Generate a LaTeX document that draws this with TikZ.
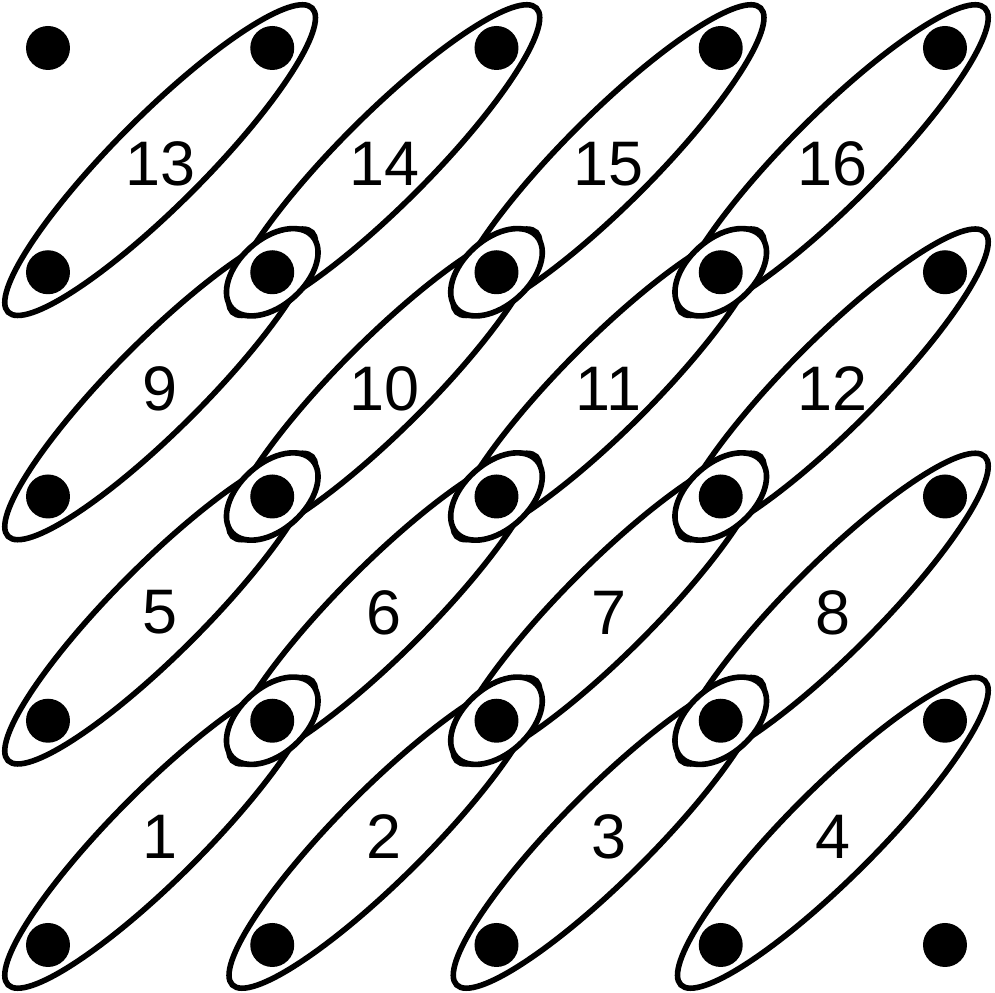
\documentclass[tikz,border=0pt]{standalone}
\usepackage{fontspec}
\setmainfont{Liberation Sans}
\usetikzlibrary{calc}
\tikzset{
  pt/.style={circle, fill=black, inner sep=0pt, minimum size=0.44cm},
  pairloop/.style={line width=0.056cm},
  eyeloop/.style={pairloop, fill=white},
  num/.style={font=\fontsize{17.9}{20}\selectfont, inner sep=0pt},
}

\begin{document}
\begin{tikzpicture}
  \useasboundingbox (0,0) rectangle (9.95,9.93);
  % grid positions
  \foreach \c in {0,...,4}
    \foreach \r in {0,...,4}
      \coordinate (g-\c-\r) at ({0.48+2.2425*\c},{0.48+2.2425*\r});
  % long loops with their numbers
  \foreach \c in {0,...,3}
    \foreach \r in {0,...,3} {
      \pgfmathtruncatemacro{\k}{4*\r+\c+1}
      \pgfmathtruncatemacro{\cc}{\c+1}
      \pgfmathtruncatemacro{\rr}{\r+1}
      \coordinate (m-\k) at ($(g-\c-\r)!0.5!(g-\cc-\rr)$);
      \draw[pairloop, rotate around={45:(m-\k)}] (m-\k) ellipse (2.15 and 0.45);
      \node[num] (n-\k) at ([yshift=-0.04cm]m-\k) {\k};
    }
  % short loops round the inner points
  \foreach \c in {1,2,3}
    \foreach \r in {1,2,3}
      \draw[eyeloop, rotate around={42:(g-\c-\r)}] (g-\c-\r) ellipse (0.54 and 0.33);
  % the points
  \foreach \c in {0,...,4}
    \foreach \r in {0,...,4}
      \node[pt] (p-\c-\r) at (g-\c-\r) {};
\end{tikzpicture}
\end{document}
